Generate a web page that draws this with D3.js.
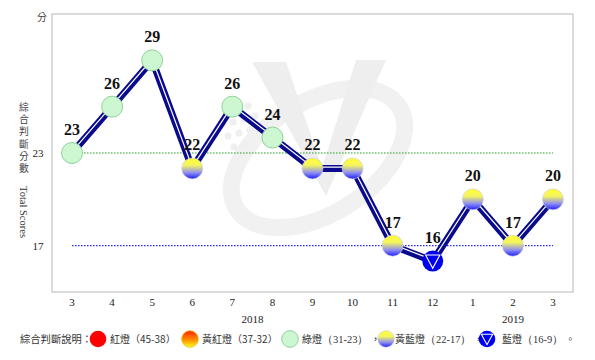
<!DOCTYPE html>
<html>
<head>
<meta charset="utf-8">
<script src="https://cdn.jsdelivr.net/npm/d3@7/dist/d3.min.js"></script>
<style>
html,body{margin:0;padding:0;background:#fff;}
svg{display:block;}
</style>
</head>
<body>
<svg id="chart" width="595" height="360"></svg>
<script>
const months = ["3","4","5","6","7","8","9","10","11","12","1","2","3"];
const scores = [23,26,29,22,26,24,22,22,17,16,20,17,20];
const years = [{label:"2018", at:4.5},{label:"2019", at:11}];
const yTicks = [23,17];
const refLines = [{v:23, color:"#1e9e1e"},{v:17, color:"#2525ee"}];
const legendItems = [
  {type:"red", label:"紅燈", range:"（45-38）"},
  {type:"yr", label:"黃紅燈", range:"（37-32）"},
  {type:"green", label:"綠燈", range:"（31-23）"},
  {type:"yb", label:"黃藍燈", range:"（22-17）"},
  {type:"blue", label:"藍燈", range:"（16-9）"}
];

const svg = d3.select("#chart");
const L=52,R=573,T=14,B=292;
const x = d3.scaleBand().domain(d3.range(months.length)).range([L,R]);
const cx = i => x(i)+x.bandwidth()/2;
const y = d3.scaleLinear().domain([14,32]).range([B,T]);

const defs = svg.append("defs");
const gyb = defs.append("linearGradient").attr("id","gyb").attr("x1",0).attr("y1",0).attr("x2",0).attr("y2",1);
gyb.append("stop").attr("offset","0%").attr("stop-color","#ffff30");
gyb.append("stop").attr("offset","35%").attr("stop-color","#f4f460");
gyb.append("stop").attr("offset","70%").attr("stop-color","#9090f0");
gyb.append("stop").attr("offset","100%").attr("stop-color","#2020ff");
const gyr = defs.append("linearGradient").attr("id","gyr").attr("x1",0).attr("y1",0).attr("x2",0).attr("y2",1);
gyr.append("stop").attr("offset","0%").attr("stop-color","#ff2000");
gyr.append("stop").attr("offset","60%").attr("stop-color","#ff9a00");
gyr.append("stop").attr("offset","100%").attr("stop-color","#ffff20");

// watermark (faint logo)
const wm = svg.append("g");
wm.append("ellipse").attr("cx",318).attr("cy",158).attr("rx",96).attr("ry",56)
  .attr("transform","rotate(-32,318,158)")
  .attr("fill","none").attr("stroke","#f1f1f1").attr("stroke-width",17);
wm.append("path").attr("d","M252,62 L286,62 L322,168 L356,60 L386,60 L326,196 Z")
  .attr("fill","#eeeeee");
const dots=[[226,112],[237,109],[248,106],[222,124],[233,122],[244,119],[255,116],[228,136],[239,133],[250,130],[234,147],[245,144]];
wm.selectAll("circle.dot").data(dots).join("circle").attr("class","dot")
  .attr("cx",d=>d[0]).attr("cy",d=>d[1]).attr("r",3.6).attr("fill","#efefef");

// frame
svg.append("rect").attr("x",L).attr("y",T).attr("width",R-L).attr("height",B-T)
  .attr("fill","none").attr("stroke","#c4c4c4").attr("stroke-width",1.2);

// reference lines
svg.selectAll("line.ref").data(refLines).join("line").attr("class","ref")
  .attr("x1",cx(0)).attr("x2",cx(months.length-1))
  .attr("y1",d=>y(d.v)).attr("y2",d=>y(d.v))
  .attr("stroke",d=>d.color).attr("stroke-width",1.2).attr("stroke-dasharray","1.5,1.5");

// y ticks
svg.selectAll("text.yt").data(yTicks).join("text").attr("class","yt")
  .attr("x",38).attr("y",d=>y(d)+4).attr("text-anchor","middle")
  .attr("font-family","Liberation Serif").attr("font-size",11).attr("fill","#222").text(d=>d);
svg.append("text").attr("x",42).attr("y",21).attr("text-anchor","middle")
  .attr("font-family","Noto Sans CJK TC").attr("font-size",10).attr("fill","#444").text("分");

// y title (vertical CJK)
svg.append("text").attr("x",24).attr("y",102)
  .attr("writing-mode","vertical-rl").attr("letter-spacing",2.5)
  .attr("font-family","Noto Sans CJK TC").attr("font-size",9.8).attr("fill","#444").text("綜合判斷分數");
svg.append("text").attr("transform","translate(20,212) rotate(90)").attr("text-anchor","middle")
  .attr("font-family","Liberation Serif").attr("font-size",10.5).attr("fill","#333").text("Total Scores");

// line
const line = d3.line().x((d,i)=>cx(i)).y(d=>y(d));
svg.append("path").datum(scores).attr("d",line).attr("fill","none")
  .attr("stroke","#0a0a8c").attr("stroke-width",7).attr("stroke-linejoin","miter");
svg.append("path").datum(scores).attr("d",line).attr("fill","none")
  .attr("transform","translate(0,-1.3)")
  .attr("stroke","#ffffff").attr("stroke-width",1.2).attr("stroke-linejoin","miter");

function typeOf(v){ if(v>=38) return "red"; if(v>=32) return "yr"; if(v>=23) return "green"; if(v>=17) return "yb"; return "blue"; }
function drawLamp(g, t, r){
  if(t==="red") g.append("circle").attr("r",r).attr("fill","#ff0000");
  else if(t==="yr") g.append("circle").attr("r",r).attr("fill","url(#gyr)").attr("stroke","#e8c000").attr("stroke-width",0.8);
  else if(t==="green") g.append("circle").attr("r",r).attr("fill","#cdf7d0").attr("stroke","#8fd29a").attr("stroke-width",1);
  else if(t==="yb") g.append("circle").attr("r",r).attr("fill","url(#gyb)").attr("stroke","#c8c8e8").attr("stroke-width",0.6);
  else {
    g.append("circle").attr("r",r).attr("fill","#0000f0");
    const s=r*0.68;
    g.append("path").attr("d",`M${-s},${-s*0.85} L${s},${-s*0.85} L0,${s} Z`)
      .attr("fill","none").attr("stroke","#fff").attr("stroke-width",1.1);
  }
}
const pts = svg.selectAll("g.pt").data(scores).join("g").attr("class","pt")
  .attr("transform",(d,i)=>`translate(${cx(i)},${y(d)})`);
pts.each(function(d){ drawLamp(d3.select(this), typeOf(d), 10.5); });

// value labels
svg.selectAll("text.val").data(scores).join("text").attr("class","val")
  .attr("x",(d,i)=>cx(i)).attr("y",d=>y(d)-18).attr("text-anchor","middle")
  .attr("font-family","Liberation Serif").attr("font-weight","bold").attr("font-size",16).attr("fill","#111")
  .text(d=>d);

// x labels
svg.selectAll("text.xt").data(months).join("text").attr("class","xt")
  .attr("x",(d,i)=>cx(i)).attr("y",306).attr("text-anchor","middle")
  .attr("font-family","Liberation Serif").attr("font-size",11).attr("fill","#222").text(d=>d);
svg.selectAll("text.yr").data(years).join("text").attr("class","yr")
  .attr("x",d=>x(Math.floor(d.at))+x.bandwidth()*(d.at-Math.floor(d.at))+x.bandwidth()/2).attr("y",323).attr("text-anchor","middle")
  .attr("font-family","Liberation Serif").attr("font-size",11).attr("fill","#222").text(d=>d.label);

// legend
const ly=339;
svg.append("text").attr("x",20).attr("y",ly+4).attr("font-family","Noto Sans CJK TC").attr("font-size",10.3).attr("fill","#333").text("綜合判斷說明：");
const lampX=[98,190,290,386,487];
const textX=[110,202,302,395,502];
legendItems.forEach((it,i)=>{
  const g=svg.append("g").attr("transform",`translate(${lampX[i]},${ly})`);
  drawLamp(g,it.type,8.3);
  const t=svg.append("text").attr("x",textX[i]).attr("y",ly+4).attr("font-family","Noto Sans CJK TC").attr("font-size",10).attr("fill","#333");
  t.append("tspan").text(it.label);
  t.append("tspan").text(it.range).attr("font-family", i<2 ? "Noto Sans CJK TC" : "Liberation Serif").attr("font-size", i<2?10:10.5);
  const w=t.node().getComputedTextLength();
  svg.append("text").attr("x",textX[i]+w+2).attr("y",ly+4).attr("font-family","Noto Sans CJK TC").attr("font-size",10).attr("fill","#333").text(i<4?"，":"。");
});
</script>
</body>
</html>
